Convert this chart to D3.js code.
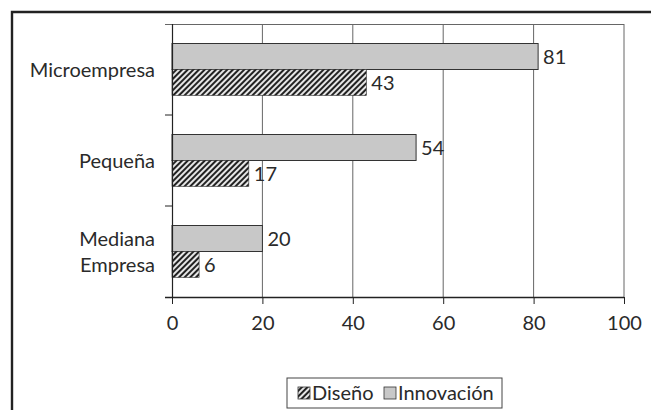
<!DOCTYPE html>
<html>
<head>
<meta charset="utf-8">
<script src="https://cdn.jsdelivr.net/npm/d3@7"></script>
<style>
  html, body { margin: 0; padding: 0; background: #fff; }
  svg { display: block; }
  text { font-family: Lato, "Noto Sans", sans-serif; fill: #2a2a2a; font-weight: 400; }
</style>
</head>
<body>
<svg id="chart" width="651" height="410"></svg>
<script>
// Company sizes (top to bottom) and the percentage for each series
const categories = ["Microempresa", "Pequeña", "Mediana Empresa"];
const categoryLines = [["Microempresa"], ["Pequeña"], ["Mediana", "Empresa"]];
const innovacion = [81, 54, 20];
const diseno = [43, 17, 6];
const xTicks = [0, 20, 40, 60, 80, 100];
const seriesNames = ["Diseño", "Innovación"];

const svg = d3.select("#chart");
const W = 651, H = 410;
const plot = { left: 172, right: 624, top: 24, bottom: 297 };
const FS = 20;

// hatch pattern for the Diseño bars
const defs = svg.append("defs");
const pat = defs.append("pattern")
  .attr("id", "hatch")
  .attr("patternUnits", "userSpaceOnUse")
  .attr("width", 4).attr("height", 4)
  .attr("patternTransform", "rotate(45)");
pat.append("rect").attr("width", 4).attr("height", 4).attr("fill", "#e6e6e6");
pat.append("rect").attr("x", 0).attr("width", 2).attr("height", 4).attr("fill", "#222");

// outer frame
svg.append("path")
  .attr("d", `M12,${H + 5} L12,12 L${W + 5},12`)
  .attr("fill", "none").attr("stroke", "#222").attr("stroke-width", 2.4);

const x = d3.scaleLinear().domain([0, 100]).range([plot.left, plot.right]);
const y0 = d3.scaleBand().domain(categories).range([plot.top, plot.bottom]);
const y1 = d3.scaleBand().domain(["Innovación", "Diseño"])
  .range([0, y0.bandwidth()]).paddingOuter(0.75).paddingInner(0);

// vertical gridlines
svg.append("g").selectAll("line")
  .data(xTicks.slice(1))
  .join("line")
  .attr("x1", d => x(d)).attr("x2", d => x(d))
  .attr("y1", plot.top).attr("y2", plot.bottom)
  .attr("stroke", "#666").attr("stroke-width", 1);

// top border of the plot area
svg.append("line")
  .attr("x1", plot.left - 7).attr("x2", plot.right)
  .attr("y1", plot.top + 0.5).attr("y2", plot.top + 0.5)
  .attr("stroke", "#666").attr("stroke-width", 1);

// bars
const groups = svg.append("g").selectAll("g")
  .data(categories.map((c, i) => ({ c, i })))
  .join("g")
  .attr("transform", d => `translate(0,${y0(d.c)})`);

groups.append("rect")
  .attr("x", x(0))
  .attr("y", y1("Innovación"))
  .attr("width", d => x(innovacion[d.i]) - x(0))
  .attr("height", y1.bandwidth())
  .attr("fill", "#c8c8c8").attr("stroke", "#333").attr("stroke-width", 1);

groups.append("rect")
  .attr("x", x(0))
  .attr("y", y1("Diseño"))
  .attr("width", d => x(diseno[d.i]) - x(0))
  .attr("height", y1.bandwidth())
  .attr("fill", "url(#hatch)").attr("stroke", "#333").attr("stroke-width", 0.6);

// value labels
groups.append("text")
  .attr("x", d => x(innovacion[d.i]) + 5)
  .attr("y", y1("Innovación") + y1.bandwidth() / 2)
  .attr("dy", "0.36em")
  .attr("font-size", FS)
  .text(d => innovacion[d.i]);

groups.append("text")
  .attr("x", d => x(diseno[d.i]) + 5)
  .attr("y", y1("Diseño") + y1.bandwidth() / 2)
  .attr("dy", "0.36em")
  .attr("font-size", FS)
  .text(d => diseno[d.i]);

// left axis: line with ticks at band boundaries
const yAxisG = svg.append("g");
yAxisG.append("line")
  .attr("x1", plot.left + 0.5).attr("x2", plot.left + 0.5)
  .attr("y1", plot.top).attr("y2", plot.bottom)
  .attr("stroke", "#222").attr("stroke-width", 1.2);
yAxisG.selectAll("line.tick")
  .data(categories.slice(1))
  .join("line").attr("class", "tick")
  .attr("x1", plot.left - 7).attr("x2", plot.left)
  .attr("y1", d => y0(d)).attr("y2", d => y0(d))
  .attr("stroke", "#222").attr("stroke-width", 1);

// category labels
yAxisG.selectAll("text")
  .data(categories.map((c, i) => ({ c, lines: categoryLines[i] })))
  .join("text")
  .attr("text-anchor", "end")
  .attr("font-size", FS)
  .each(function (d) {
    const t = d3.select(this);
    const cy = y0(d.c) + y0.bandwidth() / 2;
    const n = d.lines.length;
    d.lines.forEach((ln, k) => {
      t.append("tspan")
        .attr("x", 155)
        .attr("y", cy + (k - (n - 1) / 2) * 26)
        .attr("dy", "0.36em")
        .text(ln);
    });
  });

// bottom axis
const xAxis = d3.axisBottom(x).tickValues(xTicks).tickSize(7).tickPadding(12);
const xg = svg.append("g")
  .attr("transform", `translate(0,${plot.bottom})`)
  .call(xAxis);
xg.select(".domain").remove();
xg.append("line")
  .attr("x1", plot.left - 7).attr("x2", plot.right)
  .attr("y1", 0.5).attr("y2", 0.5)
  .attr("stroke", "#222").attr("stroke-width", 1.6);
xg.selectAll(".tick line").attr("stroke", "#222");
xg.selectAll(".tick text")
  .attr("font-size", FS)
  .attr("font-family", "Lato, 'Noto Sans', sans-serif")
  .attr("fill", "#2a2a2a");

// legend
const lg = svg.append("g").attr("transform", "translate(287,378)");
lg.append("rect")
  .attr("x", 0).attr("y", 0).attr("width", 215).attr("height", 30)
  .attr("fill", "#fff").attr("stroke", "#444").attr("stroke-width", 1);
const legendItems = [
  { name: seriesNames[0], fill: "url(#hatch)", x: 11 },
  { name: seriesNames[1], fill: "#c8c8c8", x: 97 }
];
legendItems.forEach(it => {
  lg.append("rect")
    .attr("x", it.x).attr("y", 9).attr("width", 12).attr("height", 12)
    .attr("fill", it.fill).attr("stroke", "#333").attr("stroke-width", 0.8);
  lg.append("text")
    .attr("x", it.x + 14).attr("y", 15)
    .attr("dy", "0.36em")
    .attr("font-size", FS)
    .text(it.name);
});
</script>
</body>
</html>
